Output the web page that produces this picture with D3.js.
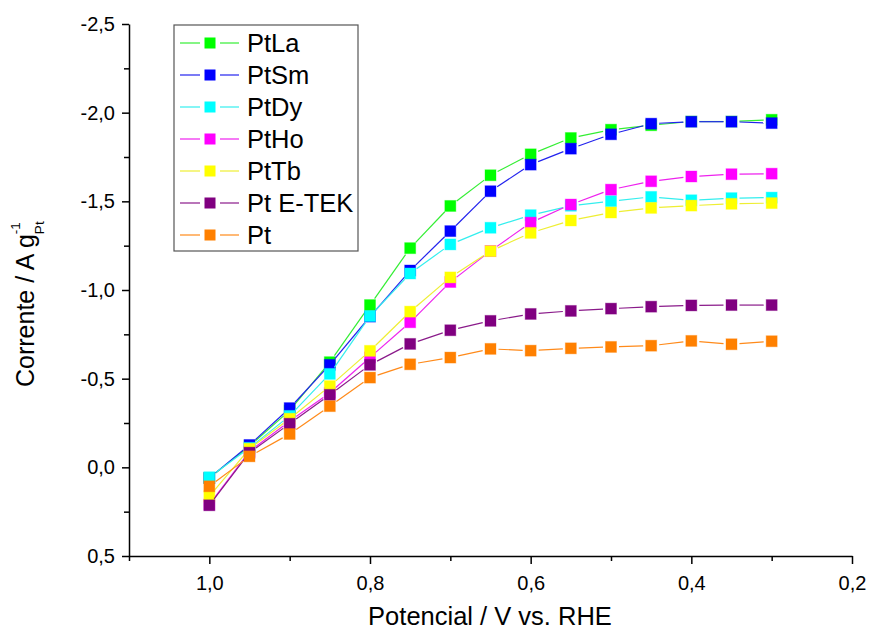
<!DOCTYPE html>
<html>
<head>
<meta charset="utf-8">
<script src="https://cdn.jsdelivr.net/npm/d3@7"></script>
<style>
  html, body { margin: 0; padding: 0; background: #fff; }
  svg { display: block; font-family: Arial, "Liberation Sans", sans-serif; }
</style>
</head>
<body>
<svg id="chart" width="869" height="631"></svg>
<script>
// Potential (V vs. RHE) at which each current was measured
const potentials = [1.0, 0.95, 0.9, 0.85, 0.8, 0.75, 0.7, 0.65, 0.6, 0.55, 0.5, 0.45, 0.4, 0.35, 0.3];

// Mass-specific current (A g_Pt^-1) for each catalyst
const PtLa   = [0.06, -0.12, -0.32, -0.593, -0.915, -1.236, -1.474, -1.647, -1.765, -1.857, -1.904, -1.929, -1.95, -1.95, -1.96];
const PtSm   = [0.06, -0.126, -0.334, -0.578, -0.85, -1.11, -1.332, -1.557, -1.707, -1.797, -1.878, -1.938, -1.949, -1.949, -1.941];
const PtDy   = [0.056, -0.11, -0.29, -0.527, -0.853, -1.093, -1.257, -1.351, -1.422, -1.475, -1.501, -1.525, -1.506, -1.518, -1.521];
const PtHo   = [0.21, -0.09, -0.26, -0.42, -0.62, -0.818, -1.045, -1.22, -1.38, -1.482, -1.566, -1.613, -1.64, -1.653, -1.656];
const PtTb   = [0.163, -0.105, -0.274, -0.458, -0.657, -0.878, -1.071, -1.219, -1.322, -1.392, -1.437, -1.463, -1.476, -1.486, -1.49];
const PtETEK = [0.214, -0.083, -0.246, -0.409, -0.578, -0.696, -0.773, -0.826, -0.865, -0.882, -0.895, -0.906, -0.913, -0.915, -0.915];
const Pt     = [0.107, -0.062, -0.188, -0.345, -0.506, -0.581, -0.619, -0.668, -0.658, -0.671, -0.679, -0.686, -0.713, -0.694, -0.711];

const seriesNames = ["PtLa", "PtSm", "PtDy", "PtHo", "PtTb", "Pt E-TEK", "Pt"];
const seriesValues = [PtLa, PtSm, PtDy, PtHo, PtTb, PtETEK, Pt];
const markerColors = ["#00ff00", "#0000ff", "#00ffff", "#ff00ff", "#ffff00", "#800080", "#ff8000"];
const lineColors   = ["#33ee33", "#2222ee", "#33eeee", "#ee22ee", "#eeee33", "#8a1a8a", "#ff8a1a"];

const xTicksMajor = [1.0, 0.8, 0.6, 0.4, 0.2];
const xTicksMinor = [1.1, 0.9, 0.7, 0.5, 0.3];
const yTicksMajor = [-2.5, -2.0, -1.5, -1.0, -0.5, 0.0, 0.5];
const yTicksMinor = [-2.25, -1.75, -1.25, -0.75, -0.25, 0.25];

const svg = d3.select("#chart");
// Decimal comma and a plain hyphen for negative numbers
const locale = d3.formatLocale({ decimal: ",", thousands: ".", grouping: [3], currency: ["", ""], minus: "-" });
const fmt = locale.format(".1f");

// Potential decreases to the right; current axis is inverted (negative up)
const x = d3.scaleLinear().domain([1.1, 0.2]).range([129, 852]);
const y = d3.scaleLinear().domain([-2.5, 0.5]).range([24, 556]);

// Axes
const xAxis = svg.append("g").attr("transform", `translate(0,${y(0.5)})`);
xAxis.call(d3.axisBottom(x).tickValues(xTicksMajor).tickSize(8).tickSizeOuter(0).tickFormat(fmt).tickPadding(12));
xAxis.append("g").call(d3.axisBottom(x).tickValues(xTicksMinor).tickSize(5).tickSizeOuter(0).tickFormat(""))
  .select(".domain").remove();

const yAxis = svg.append("g").attr("transform", `translate(${x(1.1)},0)`);
yAxis.call(d3.axisLeft(y).tickValues(yTicksMajor).tickSize(7).tickSizeOuter(0).tickFormat(fmt).tickPadding(7));
yAxis.append("g").call(d3.axisLeft(y).tickValues(yTicksMinor).tickSize(5).tickSizeOuter(0).tickFormat(""))
  .select(".domain").remove();

svg.selectAll(".domain, .tick line").attr("stroke", "#000").attr("stroke-width", 1.5);
svg.selectAll(".tick text").attr("font-size", 20).attr("fill", "#000")
  .attr("font-family", "Arial, 'Liberation Sans', sans-serif");

// Axis titles
svg.append("text")
  .attr("x", 490).attr("y", 625)
  .attr("text-anchor", "middle").attr("font-size", 25.5)
  .text("Potencial / V vs. RHE");

const yTitle = svg.append("text")
  .attr("transform", "translate(34,387) rotate(-90)")
  .attr("text-anchor", "start").attr("font-size", 25);
yTitle.append("tspan").text("Corrente / A g");
yTitle.append("tspan").attr("font-size", 13.5).attr("dy", 10).text("Pt");
yTitle.append("tspan").attr("font-size", 13.5).attr("dx", -12.8).attr("dy", -24).text("-1");

// Series: lines stop short of each marker, markers drawn on top, series in legend order
const gap = 8;
const markerSize = 11;
seriesValues.forEach((vals, si) => {
  const g = svg.append("g");
  const pts = potentials.map((p, i) => [x(p), y(vals[i])]);
  const segs = d3.pairs(pts).map(([a, b]) => {
    const dx = b[0] - a[0], dy = b[1] - a[1];
    const len = Math.hypot(dx, dy);
    const ux = dx / len, uy = dy / len;
    return len > 2 * gap ? [[a[0] + ux * gap, a[1] + uy * gap], [b[0] - ux * gap, b[1] - uy * gap]] : null;
  }).filter(Boolean);
  g.selectAll("line").data(segs).join("line")
    .attr("x1", d => d[0][0]).attr("y1", d => d[0][1])
    .attr("x2", d => d[1][0]).attr("y2", d => d[1][1])
    .attr("stroke", lineColors[si]).attr("stroke-width", 1.2);
  g.selectAll("rect").data(pts).join("rect")
    .attr("x", d => d[0] - markerSize / 2).attr("y", d => d[1] - markerSize / 2)
    .attr("width", markerSize).attr("height", markerSize)
    .attr("fill", markerColors[si])
    .attr("stroke", markerColors[si]).attr("stroke-opacity", 0.35).attr("stroke-width", 1);
});

// Legend
const legend = svg.append("g");
legend.append("rect")
  .attr("x", 174).attr("y", 25).attr("width", 184).attr("height", 226)
  .attr("fill", "#fff").attr("stroke", "#555").attr("stroke-width", 1.2);
seriesNames.forEach((name, i) => {
  const cy = 43 + i * 32;
  const row = legend.append("g");
  row.append("line").attr("x1", 180).attr("x2", 200).attr("y1", cy).attr("y2", cy)
    .attr("stroke", lineColors[i]).attr("stroke-width", 1.2);
  row.append("line").attr("x1", 220).attr("x2", 239).attr("y1", cy).attr("y2", cy)
    .attr("stroke", lineColors[i]).attr("stroke-width", 1.2);
  row.append("rect").attr("x", 210 - markerSize / 2).attr("y", cy - markerSize / 2)
    .attr("width", markerSize).attr("height", markerSize).attr("fill", markerColors[i]);
  row.append("text").attr("x", 247).attr("y", cy + 9).attr("font-size", 25.5).text(name);
});
</script>
</body>
</html>
